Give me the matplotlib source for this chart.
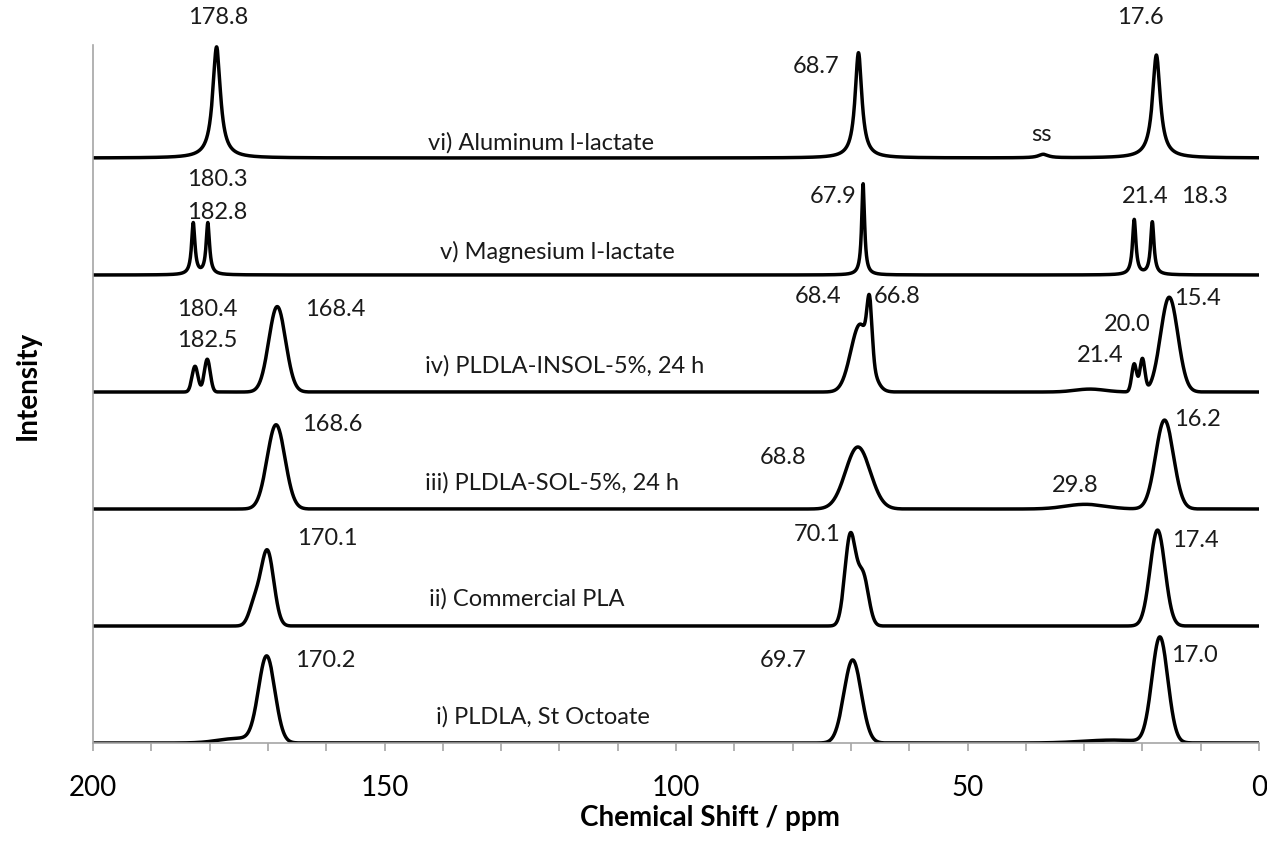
import numpy as np
import matplotlib
matplotlib.use("Agg")
import matplotlib.pyplot as plt

plt.rcParams['font.family'] = ['Lato', 'DejaVu Sans']

# peak tables for each spectrum: centre (ppm), height, full width at half max (ppm)
# i) PLDLA, St Octoate
ppm_i = [170.2, 175.0, 69.7, 17.0, 25.0]
height_i = [0.73, 0.04, 0.71, 0.90, 0.025]
fwhm_i = [3.3, 8.0, 3.5, 3.2, 12.0]

# ii) Commercial PLA
ppm_ii = [170.1, 172.3, 70.1, 67.9, 17.4]
height_ii = [0.64, 0.18, 0.77, 0.42, 0.82]
fwhm_ii = [2.6, 2.2, 2.2, 2.2, 3.0]

# iii) PLDLA-SOL-5%, 24 h
ppm_iii = [168.6, 68.8, 29.8, 16.2]
height_iii = [0.72, 0.53, 0.04, 0.76]
fwhm_iii = [3.6, 5.0, 8.0, 3.6]

# iv) PLDLA-INSOL-5%, 24 h
ppm_iv = [182.5, 180.4, 168.4, 68.4, 66.8, 29.0, 21.4, 20.0, 15.4]
height_iv = [0.22, 0.28, 0.73, 0.58, 0.47, 0.025, 0.24, 0.28, 0.81]
fwhm_iv = [1.2, 1.2, 3.4, 3.8, 1.0, 6.0, 1.0, 1.0, 3.5]

# v) Magnesium l-lactate
ppm_v = [182.8, 180.3, 67.9, 21.4, 18.3]
height_v = [0.44, 0.44, 0.78, 0.47, 0.45]
fwhm_v = [0.7, 0.7, 0.6, 0.7, 0.7]

# vi) Aluminum l-lactate
ppm_vi = [178.8, 68.7, 37.0, 17.6]
height_vi = [0.95, 0.90, 0.03, 0.88]
fwhm_vi = [1.6, 1.4, 2.0, 1.6]

names = ["i) PLDLA, St Octoate", "ii) Commercial PLA", "iii) PLDLA-SOL-5%, 24 h",
         "iv) PLDLA-INSOL-5%, 24 h", "v) Magnesium l-lactate", "vi) Aluminum l-lactate"]
peak_sets = [(ppm_i, height_i, fwhm_i, "gauss"),
             (ppm_ii, height_ii, fwhm_ii, "gauss"),
             (ppm_iii, height_iii, fwhm_iii, "gauss"),
             (ppm_iv, height_iv, fwhm_iv, "gauss"),
             (ppm_v, height_v, fwhm_v, "lorentz"),
             (ppm_vi, height_vi, fwhm_vi, "lorentz")]

# shift labels: text, x (ppm), y (stacked intensity units)
shift_labels = [
    ("178.8", 178.6, 6.205), ("68.7", 76.0, 5.786), ("17.6", 20.4, 6.205), ("ss", 37.4, 5.205),
    ("180.3", 178.7, 4.812), ("182.8", 178.7, 4.53), ("67.9", 73.1, 4.667),
    ("21.4", 19.6, 4.667), ("18.3", 9.3, 4.667),
    ("180.4", 180.4, 3.709), ("182.5", 180.4, 3.436), ("168.4", 158.5, 3.709),
    ("68.4", 75.6, 3.812), ("66.8", 62.1, 3.812), ("21.4", 27.3, 3.316),
    ("20.0", 22.6, 3.573), ("15.4", 10.6, 3.803),
    ("168.6", 159.0, 2.718), ("68.8", 81.6, 2.436), ("29.8", 31.6, 2.205), ("16.2", 10.6, 2.761),
    ("170.1", 159.9, 1.744), ("70.1", 75.8, 1.778), ("17.4", 11.0, 1.735),
    ("170.2", 160.2, 0.709), ("69.7", 81.6, 0.701), ("17.0", 11.0, 0.752),
]
name_pos = [(141.1, 0.222), (142.3, 1.231), (143.1, 2.222),
            (143.1, 3.222), (140.5, 4.197), (142.5, 5.128)]


def spectrum(x, centres, heights, widths, shape):
    y = np.zeros_like(x)
    for c, h, w in zip(centres, heights, widths):
        if shape == "gauss":
            y += h * np.exp(-4 * np.log(2) * ((x - c) / w) ** 2)
        else:
            hw = w / 2
            y += h * hw ** 2 / ((x - c) ** 2 + hw ** 2)
    return y


x = np.linspace(0, 200, 8001)

fig = plt.figure(figsize=(12.67, 8.5), dpi=100)
ax = fig.add_axes([93 / 1267, 107 / 850, 1166 / 1267, 698 / 850])

for k, (c, h, w, shape) in enumerate(peak_sets):
    ax.plot(x, spectrum(x, c, h, w, shape) + k, color="black", lw=2.5,
            solid_joinstyle="round")
    ax.text(name_pos[k][0], name_pos[k][1], names[k], fontsize=17,
            ha="left", va="center", color="#1a1a1a")

for txt, px, py in shift_labels:
    ax.text(px, py, txt, fontsize=17, ha="center", va="center",
            color="#1a1a1a", clip_on=False)

ax.set_xlim(200, 0)
ax.set_ylim(0, 698 / 117)
ax.set_xticks([200, 150, 100, 50, 0])
ax.set_xticks(np.arange(0, 201, 10), minor=True)
ax.set_yticks([])
ax.tick_params(axis="x", which="both", direction="out", length=6, width=1.2,
               color="#a6a6a6", labelsize=20, pad=17)
for s in ["top", "right"]:
    ax.spines[s].set_visible(False)
for s in ["left", "bottom"]:
    ax.spines[s].set_color("#a6a6a6")
    ax.spines[s].set_linewidth(1.2)

ax.set_xlabel("Chemical Shift / ppm", fontsize=20, fontweight="bold")
ax.xaxis.set_label_coords((710 - 93) / 1166, -(818 - 743) / 698)
ax.set_ylabel("Intensity", fontsize=20, fontweight="bold")
ax.yaxis.set_label_coords((28 - 93) / 1166, (743 - 385) / 698)
ax.xaxis.label.set_va("center")
ax.yaxis.label.set_va("center")

fig.savefig("out.png", dpi=100)
